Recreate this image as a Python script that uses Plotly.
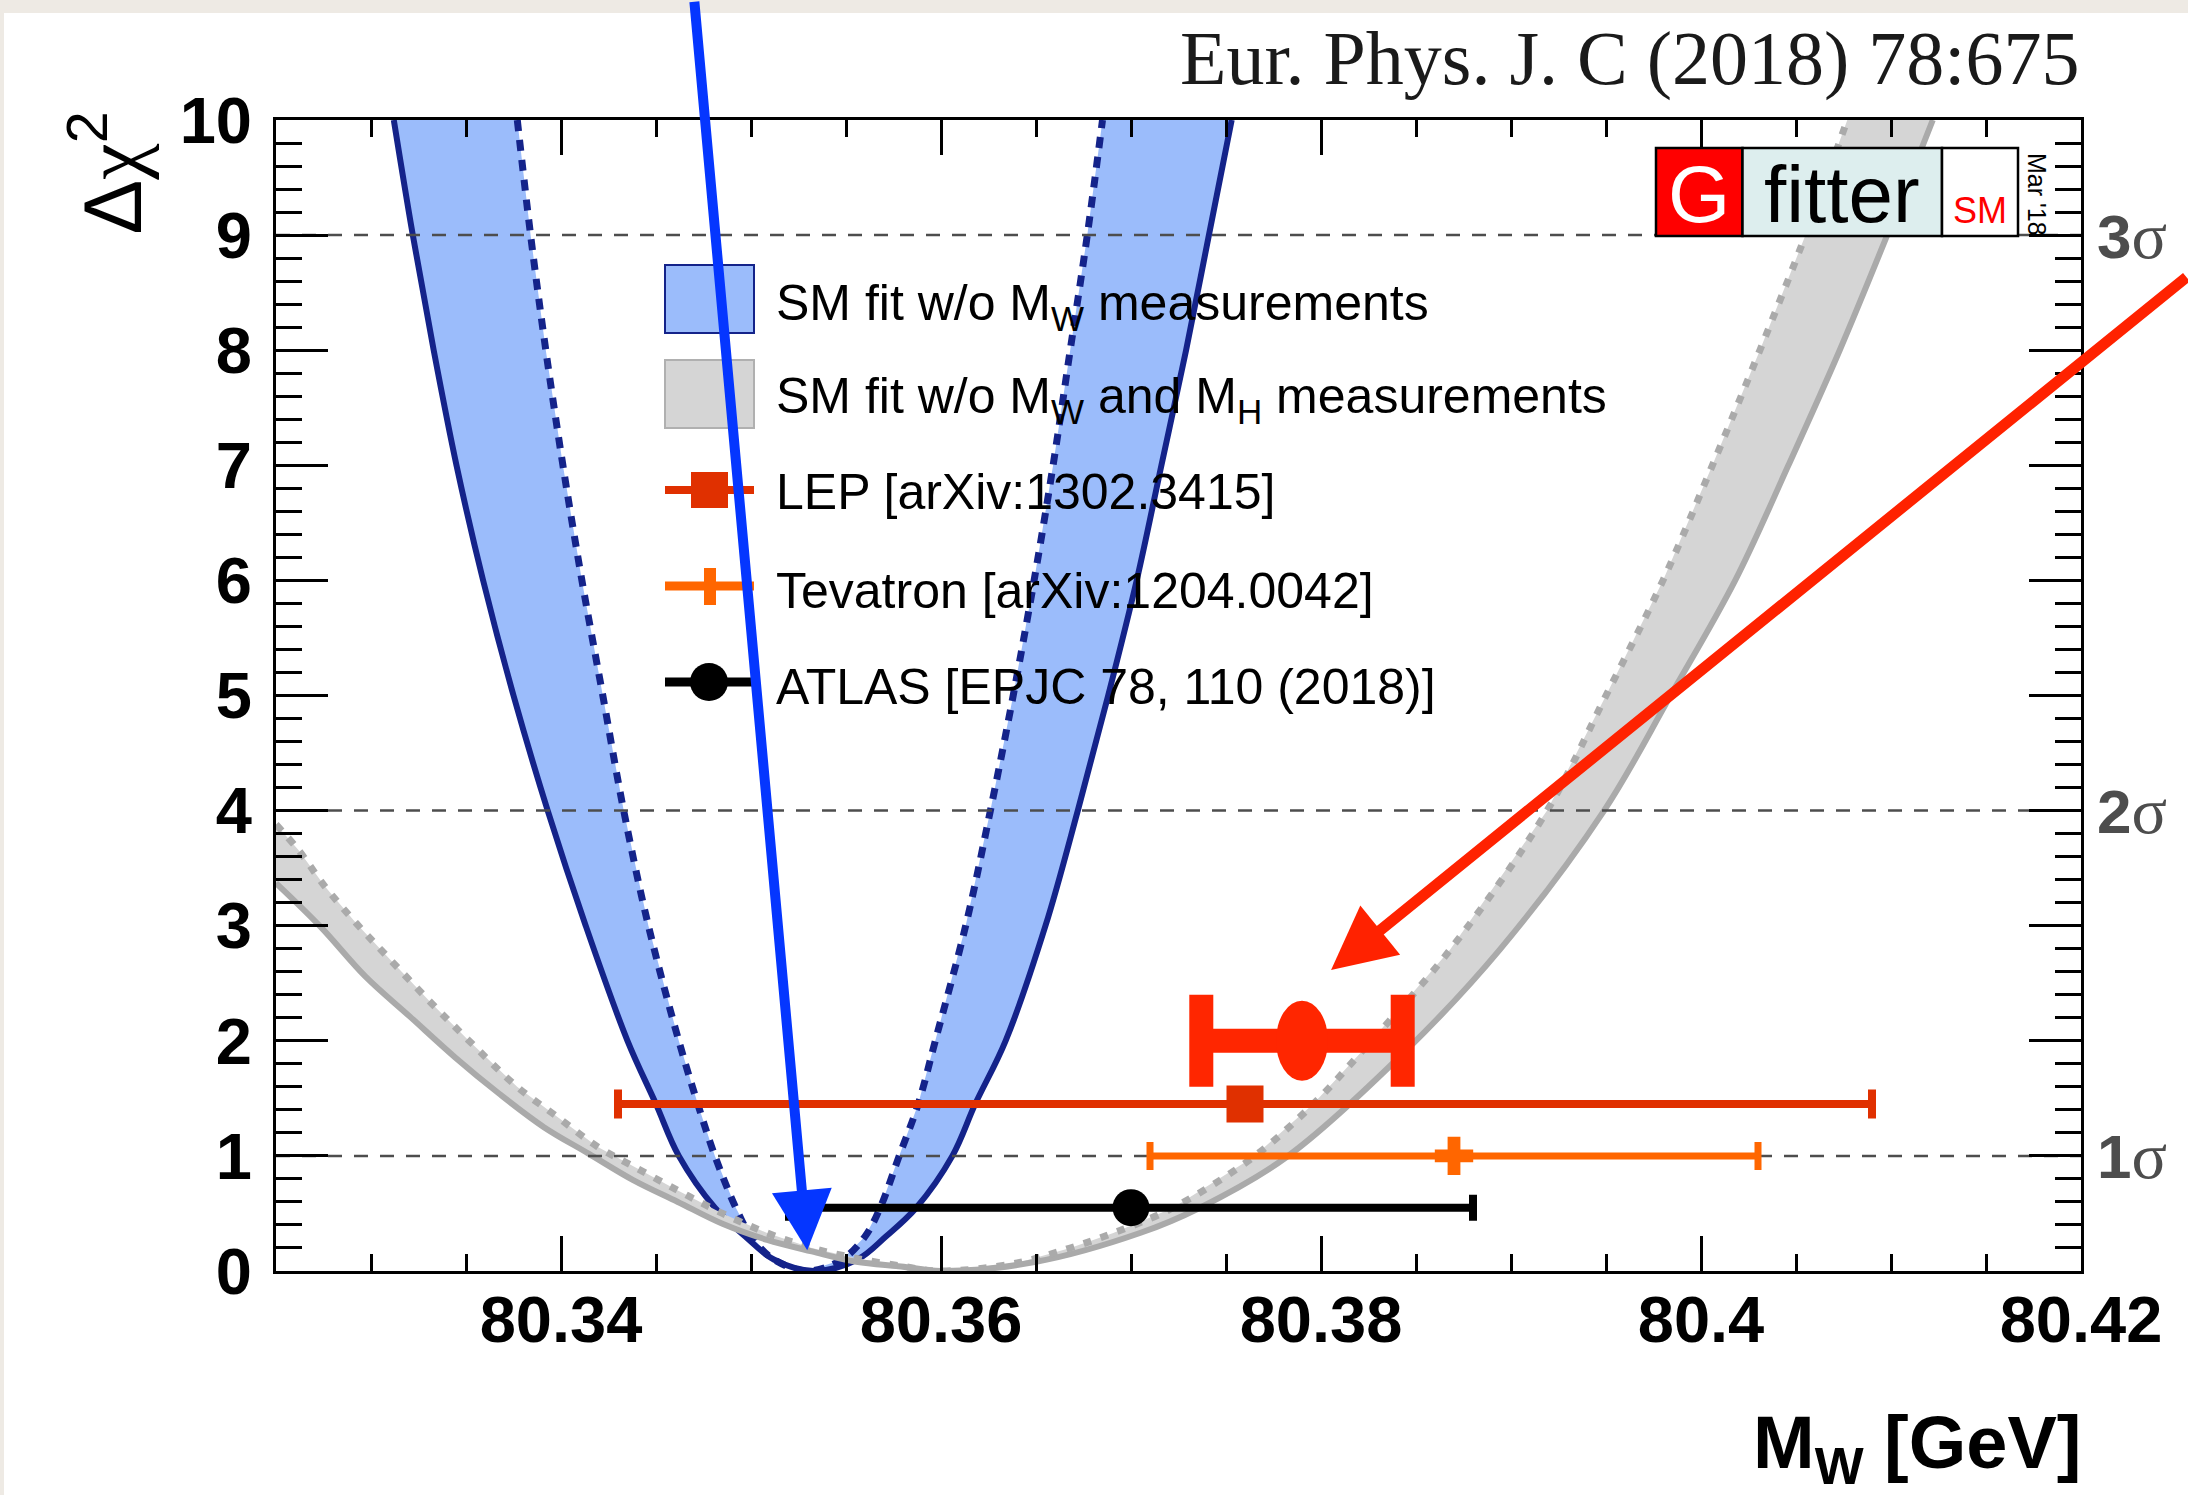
import plotly.graph_objects as go

# ------------------------------------------------------------------ data
x_range = [80.325, 80.42]
y_range = [0, 10]
x_tick_values = [80.34, 80.36, 80.38, 80.40, 80.42]
x_tick_labels = ["80.34", "80.36", "80.38", "80.4", "80.42"]
y_tick_values = [0, 1, 2, 3, 4, 5, 6, 7, 8, 9, 10]
y_tick_labels = ["0", "1", "2", "3", "4", "5", "6", "7", "8", "9", "10"]

# SM fit w/o MW measurements : outer (solid) and inner (dashed) chi2 curves
blue_y = [10, 9, 8, 7, 6, 5, 4, 3, 2, 1.45, 1, 0.55, 0.3, 0.1, 0.0,
          0.1, 0.3, 0.55, 1, 1.45, 2, 3, 4, 5, 6, 7, 8, 9, 10]
blue_outer_x = [80.3312, 80.3322, 80.3333, 80.3345, 80.3359, 80.3375, 80.3393,
                80.3413, 80.3435, 80.3450, 80.3462, 80.3481, 80.3497, 80.3512,
                80.3533, 80.3556, 80.3571, 80.3587, 80.3606, 80.3618, 80.3634,
                80.3655, 80.3672, 80.3688, 80.3703, 80.3716, 80.3729, 80.3741,
                80.3753]
blue_inner_x = [80.3377, 80.3384, 80.3392, 80.3401, 80.3411, 80.3422, 80.3433,
                80.3446, 80.3462, 80.3472, 80.3481, 80.3492, 80.3500, 80.3512,
                80.3530, 80.3548, 80.3560, 80.3568, 80.3578, 80.3588, 80.3597,
                80.3613, 80.3626, 80.3638, 80.3649, 80.3659, 80.3668, 80.3677,
                80.3685]

# SM fit w/o MW and MH measurements
gray_outer_x = [80.3250, 80.32735, 80.3297, 80.33205, 80.3344, 80.33675, 80.3391,
                80.34145, 80.3438, 80.34615, 80.3485, 80.35085, 80.3532, 80.35554,
                80.3579, 80.3600, 80.3650, 80.37047, 80.37363, 80.37819, 80.3845,
                80.3894, 80.3949, 80.3984, 80.4018, 80.4046, 80.4073, 80.4098,
                80.4122]
gray_outer_y = [3.37, 2.99, 2.56, 2.21, 1.86, 1.54, 1.25, 1.02, 0.79, 0.60, 0.41,
                0.27, 0.17, 0.08, 0.04, 0.0, 0.08, 0.33, 0.55, 0.99, 1.92, 2.79,
                4.0, 5.0, 6.0, 7.0, 8.0, 9.0, 10.0]
gray_inner_x = [80.3250, 80.32617, 80.32758, 80.32923, 80.33087, 80.33322, 80.3351,
                80.33769, 80.3398, 80.34192, 80.3438, 80.34615, 80.3485, 80.35085,
                80.3532, 80.35555, 80.3580, 80.3600, 80.3640, 80.3668, 80.36907,
                80.37222, 80.37644, 80.37959, 80.38222, 80.38679, 80.3919, 80.3950,
                80.3980, 80.4006, 80.4031, 80.4055, 80.4077]
gray_inner_y = [3.88, 3.66, 3.34, 3.02, 2.73, 2.32, 2.01, 1.60, 1.34, 1.08, 0.91,
                0.70, 0.50, 0.33, 0.20, 0.11, 0.04, 0.0, 0.07, 0.20, 0.33, 0.55,
                0.99, 1.45, 1.92, 2.79, 4.0, 5.0, 6.0, 7.0, 8.0, 9.0, 10.0]

# direct measurements
meas_names = ["ATLAS", "Tevatron", "LEP"]
meas_mw = [80.370, 80.387, 80.376]
meas_err = [0.018, 0.016, 0.033]
meas_y = [0.55, 1.0, 1.45]
new_mw = [80.379]
new_err = [0.0053]
new_y = [2.0]

sigma_levels = [1, 4, 9]
sigma_labels = ["1", "2", "3"]

legend_labels = [
    "SM fit w/o M<sub>W</sub> measurements",
    "SM fit w/o M<sub>W</sub> and M<sub>H</sub> measurements",
    "LEP [arXiv:1302.3415]",
    "Tevatron [arXiv:1204.0042]",
    "ATLAS [EPJC 78, 110 (2018)]",
]

# ------------------------------------------------------------------ layout geometry
W, H = 2188, 1495
L, T, PW, PH = 276, 120, 1805, 1151
R, B = W - L - PW, H - T - PH


def px(X):
    return (X - L) / PW


def py(Y):
    return (T + PH - Y) / PH


SANS = "Liberation Sans, Arial, Helvetica, sans-serif"
SERIF = "Liberation Serif, Times New Roman, serif"

BLUE_FILL = "#9bbcfb"
BLUE_LINE = "#14238a"
GRAY_FILL = "#d5d5d5"
GRAY_LINE = "#aaaaaa"
LEP_C = "#e03000"
TEV_C = "#ff6600"
NEW_C = "#ff2600"
SM = 1.0  # spline smoothing

fig = go.Figure()

# blue band
fig.add_trace(go.Scatter(
    x=blue_outer_x + blue_inner_x[::-1], y=blue_y + blue_y[::-1],
    fill="toself", fillcolor=BLUE_FILL, mode="lines",
    line=dict(width=0), hoverinfo="skip", showlegend=False))
fig.add_trace(go.Scatter(x=blue_outer_x, y=blue_y, mode="lines",
                         line=dict(color=BLUE_LINE, width=6, shape="spline", smoothing=SM),
                         showlegend=False))
fig.add_trace(go.Scatter(x=blue_inner_x, y=blue_y, mode="lines",
                         line=dict(color=BLUE_LINE, width=7, dash="11px,9px", shape="spline", smoothing=SM),
                         showlegend=False))

# gray band
fig.add_trace(go.Scatter(
    x=gray_outer_x + gray_inner_x[::-1], y=gray_outer_y + gray_inner_y[::-1],
    fill="toself", fillcolor=GRAY_FILL, mode="lines",
    line=dict(width=0), hoverinfo="skip", showlegend=False))
fig.add_trace(go.Scatter(x=gray_outer_x, y=gray_outer_y, mode="lines",
                         line=dict(color=GRAY_LINE, width=6, shape="spline", smoothing=SM),
                         showlegend=False))
fig.add_trace(go.Scatter(x=gray_inner_x, y=gray_inner_y, mode="lines",
                         line=dict(color=GRAY_LINE, width=7, dash="8px,10px", shape="spline", smoothing=SM),
                         showlegend=False))

# sigma lines
for lev in sigma_levels:
    fig.add_trace(go.Scatter(x=x_range, y=[lev, lev], mode="lines",
                             line=dict(color="#4d4d4d", width=2.5, dash="14px,12px"),
                             showlegend=False, hoverinfo="skip"))

# measurements
meas_style = {
    "ATLAS": dict(color="black", symbol="circle", size=37, thick=8, cap=13),
    "Tevatron": dict(color=TEV_C, symbol="cross", size=32, thick=7, cap=14),
    "LEP": dict(color=LEP_C, symbol="square", size=37, thick=8, cap=14.5),
}
for name, mw, err, yy in zip(meas_names, meas_mw, meas_err, meas_y):
    st = meas_style[name]
    fig.add_trace(go.Scatter(
        x=[mw], y=[yy], mode="markers", name=name,
        marker=dict(color=st["color"], symbol=st["symbol"], size=st["size"], line=dict(width=0)),
        error_x=dict(type="data", array=[err], color=st["color"], thickness=st["thick"], width=st["cap"]),
        showlegend=False))

fig.add_trace(go.Scatter(
    x=new_mw, y=new_y, mode="markers",
    marker=dict(color=NEW_C, size=1, opacity=0),
    error_x=dict(type="data", array=new_err, color=NEW_C, thickness=24, width=46),
    showlegend=False))

shapes = []
# ellipse on new point
shapes.append(dict(type="circle", xref="x", yref="y", xsizemode="pixel", ysizemode="pixel",
                   xanchor=new_mw[0], yanchor=new_y[0], x0=-26, x1=26, y0=-40, y1=40,
                   fillcolor=NEW_C, line=dict(width=0), layer="above"))

# beige page edges
shapes.append(dict(type="rect", xref="paper", yref="paper", x0=px(0), x1=px(W), y0=py(13), y1=py(0),
                   fillcolor="#eeeae4", line=dict(width=0), layer="below"))
shapes.append(dict(type="rect", xref="paper", yref="paper", x0=px(0), x1=px(4), y0=py(H), y1=py(0),
                   fillcolor="#eeeae4", line=dict(width=0), layer="below"))

# legend glyphs
shapes.append(dict(type="rect", xref="paper", yref="paper", x0=px(665), x1=px(754), y0=py(333), y1=py(265),
                   fillcolor=BLUE_FILL, line=dict(color=BLUE_LINE, width=2), layer="above"))
shapes.append(dict(type="rect", xref="paper", yref="paper", x0=px(665), x1=px(754), y0=py(428), y1=py(360),
                   fillcolor=GRAY_FILL, line=dict(color="#b0b0b0", width=2), layer="above"))
shapes.append(dict(type="line", xref="paper", yref="paper", x0=px(665), x1=px(754), y0=py(490), y1=py(490),
                   line=dict(color=LEP_C, width=8), layer="above"))
shapes.append(dict(type="rect", xref="paper", yref="paper", x0=px(691), x1=px(728), y0=py(508), y1=py(472),
                   fillcolor=LEP_C, line=dict(width=0), layer="above"))
shapes.append(dict(type="line", xref="paper", yref="paper", x0=px(665), x1=px(754), y0=py(586), y1=py(586),
                   line=dict(color=TEV_C, width=9), layer="above"))
shapes.append(dict(type="rect", xref="paper", yref="paper", x0=px(704), x1=px(716), y0=py(605), y1=py(568),
                   fillcolor=TEV_C, line=dict(width=0), layer="above"))
shapes.append(dict(type="line", xref="paper", yref="paper", x0=px(665), x1=px(754), y0=py(682), y1=py(682),
                   line=dict(color="black", width=9), layer="above"))
shapes.append(dict(type="circle", xref="paper", yref="paper", x0=px(690), x1=px(728), y0=py(701), y1=py(663),
                   fillcolor="black", line=dict(width=0), layer="above"))

# Gfitter logo
for x0, x1, col in [(1656, 1742.5, "#ff0000"), (1742.5, 1942, "#ddeeee"), (1942, 2018, "white")]:
    shapes.append(dict(type="rect", xref="paper", yref="paper", x0=px(x0), x1=px(x1), y0=py(236), y1=py(148),
                       fillcolor=col, line=dict(color="black", width=2.5), layer="above"))

annotations = []
row_centers = [306, 400, 492, 591, 687]
for lab, yc in zip(legend_labels, row_centers):
    annotations.append(dict(xref="paper", yref="paper", x=px(774), y=py(yc), xanchor="left", yanchor="middle",
                            text=lab, showarrow=False, font=dict(family=SANS, size=50, color="black")))

for lev, lab in zip(sigma_levels, sigma_labels):
    annotations.append(dict(xref="paper", yref="y", x=px(2095), y=lev, xanchor="left", yanchor="middle",
                            text="<b>" + lab + "</b><span style='font-family:Liberation Serif;font-size:66px'>σ</span>",
                            showarrow=False, font=dict(family=SANS, size=62, color="#4d4d4d")))

annotations.append(dict(xref="paper", yref="paper", x=px(2081), y=py(58), xanchor="right", yanchor="middle",
                        text="Eur. Phys. J. C (2018) 78:675", showarrow=False,
                        font=dict(family=SERIF, size=76, color="#1a1a1a")))
annotations.append(dict(xref="paper", yref="paper", x=px(2083), y=py(1448), xanchor="right", yanchor="middle",
                        text="<b>M<sub>W</sub> [GeV]</b>", showarrow=False,
                        font=dict(family=SANS, size=74, color="black")))
annotations.append(dict(xref="paper", yref="paper", x=px(106), y=py(110), xanchor="center", yanchor="top",
                        textangle=-90,
                        text="Δ<span style='font-family:Liberation Serif'>χ</span><sup>2</sup>",
                        showarrow=False, font=dict(family=SANS, size=82, color="black")))
# logo texts
annotations.append(dict(xref="paper", yref="paper", x=px(1699), y=py(194), xanchor="center", yanchor="middle",
                        text="G", showarrow=False, font=dict(family=SANS, size=80, color="white")))
annotations.append(dict(xref="paper", yref="paper", x=px(1842), y=py(194), xanchor="center", yanchor="middle",
                        text="fitter", showarrow=False, font=dict(family=SANS, size=80, color="black")))
annotations.append(dict(xref="paper", yref="paper", x=px(1980), y=py(210), xanchor="center", yanchor="middle",
                        text="SM", showarrow=False, font=dict(family=SANS, size=36, color="#ff0000")))
annotations.append(dict(xref="paper", yref="paper", x=px(2037), y=py(194), xanchor="center", yanchor="middle",
                        text="Mar '18", textangle=90, showarrow=False,
                        font=dict(family=SANS, size=25, color="black")))

# arrows
annotations.append(dict(xref="x", yref="y", x=80.35296, y=0.18, ax=-113, ay=-1250, text="",
                        showarrow=True, arrowhead=2, arrowsize=1.2, arrowwidth=10, arrowcolor="#0536ff",
                        standoff=0))
annotations.append(dict(xref="x", yref="y", x=80.38053, y=2.615, ax=857, ay=-694, text="",
                        showarrow=True, arrowhead=2, arrowsize=1.15, arrowwidth=11, arrowcolor="#ff2200",
                        standoff=0))

axis_common = dict(showgrid=False, zeroline=False, showline=True, linecolor="black", linewidth=3,
                   mirror="allticks", ticks="inside", tickcolor="black", tickwidth=3)

fig.update_layout(
    width=W, height=H, autosize=False,
    margin=dict(l=L, r=R, t=T, b=B, pad=0),
    paper_bgcolor="white", plot_bgcolor="white",
    showlegend=False,
    xaxis=dict(range=x_range, tickmode="array", tickvals=x_tick_values, ticktext=x_tick_labels,
               ticklen=35, ticklabelstandoff=-10,
               tickfont=dict(family=SANS, size=65, color="black", weight="bold"),
               minor=dict(dtick=0.005, tick0=80.34, ticklen=17, tickwidth=3, tickcolor="black",
                          ticks="inside", showgrid=False),
               **axis_common),
    yaxis=dict(range=y_range, tickmode="array", tickvals=y_tick_values, ticktext=y_tick_labels,
               ticklen=52, ticklabelstandoff=8,
               tickfont=dict(family=SANS, size=65, color="black", weight="bold"),
               minor=dict(dtick=0.2, tick0=0, ticklen=26, tickwidth=3, tickcolor="black",
                          ticks="inside", showgrid=False),
               **axis_common),
    shapes=shapes,
    annotations=annotations,
)

fig.write_html("out.html")
